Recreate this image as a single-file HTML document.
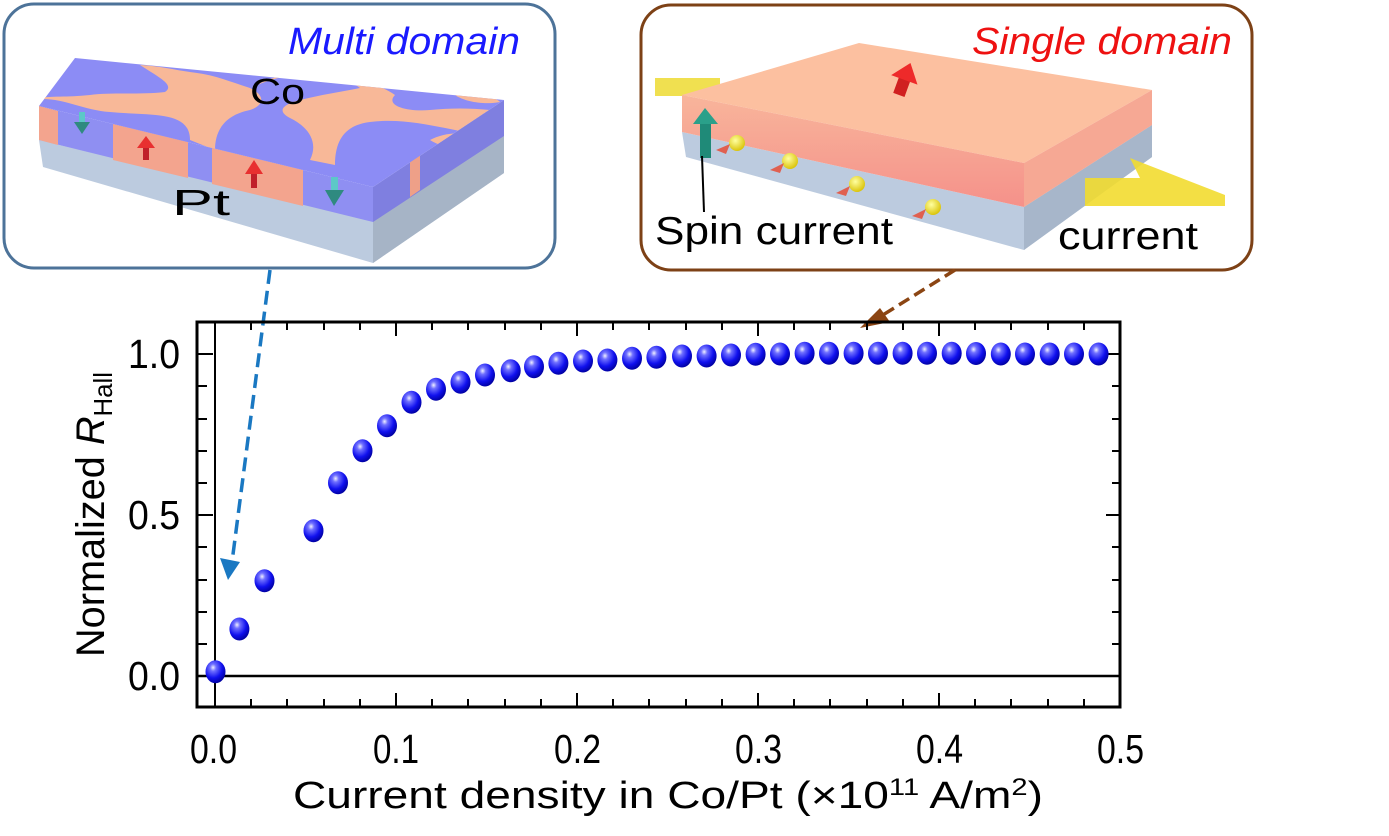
<!DOCTYPE html>
<html><head><meta charset="utf-8"><style>
html,body{margin:0;padding:0;background:#fff;}
svg{display:block;}
text{font-family:"Liberation Sans",sans-serif;}
</style></head><body>
<svg width="1389" height="836" viewBox="0 0 1389 836" xmlns="http://www.w3.org/2000/svg">
<defs>
<radialGradient id="ball" cx="0.38" cy="0.32" r="0.7">
<stop offset="0" stop-color="#f0f0ff"/><stop offset="0.22" stop-color="#7070ff"/><stop offset="0.65" stop-color="#1010ee"/><stop offset="1" stop-color="#0000a0"/></radialGradient>
<radialGradient id="yb" cx="0.4" cy="0.35" r="0.7"><stop offset="0" stop-color="#ffffa0"/><stop offset="1" stop-color="#d8c000"/></radialGradient>
<linearGradient id="coF" x1="0" y1="0" x2="0" y2="1"><stop offset="0" stop-color="#f8b59b"/><stop offset="1" stop-color="#f5918a"/></linearGradient>
<clipPath id="topL"><polygon points="39,106 75,58 504,100 373,187"/></clipPath>
</defs>

<!-- Left panel -->
<rect x="4" y="4" width="551" height="264" rx="30" fill="#fff" stroke="#4d7399" stroke-width="3"/>
<polygon points="39,140 373,220 504,135 504,173 373,263 43,167" fill="#bccbdf"/>
<polygon points="373,220 504,135 504,173 373,263" fill="#a6b4c6"/>
<polygon points="39,106 373,187 373,222 39,140" fill="#8f8ff2"/>
<polygon points="39,106 58,111 58,145 39,140" fill="#f3a48e"/>
<polygon points="113,124 188,142 188,178 113,160" fill="#f3a48e"/>
<polygon points="212,148 303,170 303,206 212,184" fill="#f3a48e"/>
<polygon points="373,187 504,100 504,136 373,222" fill="#7f7fe0"/>
<polygon points="410,162 420,155 420,190 410,197" fill="#eea088"/>
<polygon points="39,106 75,58 504,100 373,187" fill="#8c8cf5"/>
<g clip-path="url(#topL)" fill="#f8b898">
<path d="M30,100 C60,95 80,110 110,112 C150,116 190,110 190,140 L215,150 C215,130 225,115 250,110 C265,105 265,95 250,88 C225,80 215,75 190,72 C175,70 160,66 140,65 C160,78 175,85 165,92 C140,95 110,92 90,95 C60,98 45,95 30,100Z"/>
<path d="M250,88 C265,80 280,75 300,72 C330,72 350,80 360,88 C340,92 320,95 300,100 C285,104 275,110 290,118 C305,125 320,140 310,160 L335,165 C335,140 345,125 370,122 C400,118 430,125 455,130 C470,133 475,140 470,150 L490,110 C470,108 450,108 430,110 C405,112 385,105 395,95 C385,88 370,82 350,78 C320,72 290,70 250,88Z"/>
<path d="M430,140 C445,132 470,130 480,140 C470,150 445,150 430,140Z"/>
<path d="M455,95 C470,92 495,96 500,102 C485,105 465,102 455,95Z"/>
</g>
<g><rect x="79" y="112" width="6" height="12" fill="#5cc8c8"/><polygon points="74,122 90,122 82,134" fill="#2f8a80"/></g>
<g><rect x="143" y="146" width="6" height="14" fill="#c0202a"/><polygon points="137,148 155,148 146,136" fill="#e83030"/></g>
<g><rect x="251" y="172" width="6" height="16" fill="#c0202a"/><polygon points="245,174 263,174 254,160" fill="#e83030"/></g>
<g><rect x="331" y="177" width="7" height="15" fill="#5cc8c8"/><polygon points="325,190 344,190 334,206" fill="#2f8a80"/></g>
<text x="288" y="54" font-size="38" font-style="italic" fill="#1a1aff" textLength="232" lengthAdjust="spacingAndGlyphs">Multi domain</text>
<text x="250" y="104" font-size="36" fill="#000" textLength="55" lengthAdjust="spacingAndGlyphs">Co</text>
<text x="172" y="215" font-size="36" fill="#000" textLength="58" lengthAdjust="spacingAndGlyphs">Pt</text>

<!-- Right panel -->
<rect x="641" y="5" width="611" height="265" rx="30" fill="#fff" stroke="#7d4116" stroke-width="3"/>
<polygon points="655,78 720,78 720,96 655,96" fill="#f0e050"/>
<polygon points="682,132 1024,207 1152,125 1152,157 1024,250 686,157" fill="#bccbdf"/>
<polygon points="1024,207 1152,125 1152,157 1024,250" fill="#a7b6ca"/>
<polygon points="682,95 859,43 1152,90 1024,163" fill="#fcc0a0"/>
<polygon points="682,95 1024,163 1024,207 682,132" fill="url(#coF)"/>
<polygon points="1024,163 1152,90 1152,125 1024,207" fill="#f6a894"/>
<polygon points="1085,178 1140,178 1130,158 1225,195 1225,206 1085,206" fill="#f2dc30" opacity="0.9"/>
<g transform="rotate(20 905 78)"><rect x="899" y="78" width="12" height="18" fill="#d02020"/><polygon points="891,80 919,80 905,62" fill="#ee2a2a"/></g>
<rect x="700" y="122" width="11" height="36" fill="#1f8a78"/><polygon points="693,124 718,124 705,108" fill="#2aa08a"/>
<line x1="702" y1="156" x2="704" y2="212" stroke="#000" stroke-width="2"/>
<g><circle cx="737" cy="143" r="8" fill="url(#yb)"/><polygon points="716,150 730,144 726,154" fill="#e06050"/></g>
<g><circle cx="790" cy="161" r="8" fill="url(#yb)"/><polygon points="770,170 784,163 780,173" fill="#e06050"/></g>
<g><circle cx="857" cy="184" r="8" fill="url(#yb)"/><polygon points="836,193 850,186 846,196" fill="#e06050"/></g>
<g><circle cx="933" cy="207" r="8" fill="url(#yb)"/><polygon points="912,216 926,209 922,219" fill="#e06050"/></g>
<text x="972" y="54" font-size="38" font-style="italic" fill="#ee1111" textLength="260" lengthAdjust="spacingAndGlyphs">Single domain</text>
<text x="655" y="244" font-size="39" fill="#000" textLength="238" lengthAdjust="spacingAndGlyphs">Spin current</text>
<text x="1058" y="249" font-size="39" fill="#000" textLength="140" lengthAdjust="spacingAndGlyphs">current</text>

<!-- connector arrows -->
<line x1="270" y1="270" x2="232" y2="562" stroke="#1a78c2" stroke-width="3.5" stroke-dasharray="14,7"/>
<polygon points="220,558 240,562 228,580" fill="#1a78c2"/>
<line x1="955" y1="270" x2="878" y2="318" stroke="#8b4513" stroke-width="3.5" stroke-dasharray="12,6"/>
<polygon points="860,328 880,308 890,322" fill="#8b4513"/>

<!-- Plot frame -->
<rect x="197" y="322" width="923" height="385" fill="none" stroke="#000" stroke-width="3"/>
<line x1="215" y1="322" x2="215" y2="707" stroke="#000" stroke-width="2"/>
<line x1="197" y1="676" x2="1120" y2="676" stroke="#000" stroke-width="2.5"/>
<g stroke="#000" stroke-width="2">
<path d="M396,707v-14M577,707v-14M758,707v-14M939,707v-14M396,322v14M577,322v14M758,322v14M939,322v14"/>
<path d="M251,707v-8M287,707v-8M324,707v-8M360,707v-8M432,707v-8M468,707v-8M505,707v-8M541,707v-8M613,707v-8M649,707v-8M686,707v-8M722,707v-8M794,707v-8M830,707v-8M867,707v-8M903,707v-8M975,707v-8M1011,707v-8M1048,707v-8M1084,707v-8"/>
<path d="M251,322v8M287,322v8M324,322v8M360,322v8M432,322v8M468,322v8M505,322v8M541,322v8M613,322v8M649,322v8M686,322v8M722,322v8M794,322v8M830,322v8M867,322v8M903,322v8M975,322v8M1011,322v8M1048,322v8M1084,322v8"/>
<path d="M1120,515h-14M1120,354h-14M197,515h16M197,354h16"/>
<path d="M1120,644h-8M1120,612h-8M1120,580h-8M1120,547h-8M1120,483h-8M1120,451h-8M1120,419h-8M1120,386h-8"/>
<path d="M197,644h10M197,612h10M197,580h10M197,547h10M197,483h10M197,451h10M197,419h10M197,386h10"/>
</g>
<g fill="url(#ball)">
<ellipse cx="215.5" cy="671.7" rx="10" ry="11.5"/><ellipse cx="239.4" cy="629" rx="10" ry="11.5"/><ellipse cx="264.5" cy="580.7" rx="10" ry="11.5"/><ellipse cx="313.5" cy="530.7" rx="10" ry="11.5"/><ellipse cx="338" cy="482.7" rx="10" ry="11.5"/><ellipse cx="362.5" cy="450.7" rx="10" ry="11.5"/><ellipse cx="387" cy="425.7" rx="10" ry="11.5"/><ellipse cx="411.5" cy="402.3" rx="10" ry="11.5"/><ellipse cx="436" cy="389.3" rx="10" ry="11.5"/><ellipse cx="460.5" cy="382.3" rx="10" ry="11.5"/><ellipse cx="485" cy="375" rx="10" ry="11.5"/><ellipse cx="510.7" cy="370.7" rx="10" ry="11.5"/><ellipse cx="534" cy="366.7" rx="10" ry="11.5"/><ellipse cx="558.4" cy="363.3" rx="10" ry="11.5"/><ellipse cx="583" cy="361" rx="10" ry="11.5"/><ellipse cx="607.4" cy="360" rx="10" ry="11.5"/><ellipse cx="632" cy="358.3" rx="10" ry="11.5"/><ellipse cx="656.4" cy="357.3" rx="10" ry="11.5"/><ellipse cx="682" cy="356" rx="10" ry="11.5"/><ellipse cx="706.6" cy="356" rx="10" ry="11.5"/><ellipse cx="731" cy="355" rx="10" ry="11.5"/><ellipse cx="755.6" cy="354.3" rx="10" ry="11.5"/><ellipse cx="780" cy="354" rx="10" ry="11.5"/><ellipse cx="804.6" cy="353.3" rx="10" ry="11.5"/><ellipse cx="829" cy="353.3" rx="10" ry="11.5"/><ellipse cx="853.6" cy="353.3" rx="10" ry="11.5"/><ellipse cx="878" cy="353.3" rx="10" ry="11.5"/><ellipse cx="902.6" cy="353.3" rx="10" ry="11.5"/><ellipse cx="927" cy="353.3" rx="10" ry="11.5"/><ellipse cx="951.7" cy="353.3" rx="10" ry="11.5"/><ellipse cx="976" cy="353.5" rx="10" ry="11.5"/><ellipse cx="1000.8" cy="354" rx="10" ry="11.5"/><ellipse cx="1025" cy="354" rx="10" ry="11.5"/><ellipse cx="1049.7" cy="354" rx="10" ry="11.5"/><ellipse cx="1074" cy="354" rx="10" ry="11.5"/><ellipse cx="1098.6" cy="354" rx="10" ry="11.5"/>
</g>
<g font-size="41" fill="#000">
<text x="190" y="763" textLength="47" lengthAdjust="spacingAndGlyphs">0.0</text>
<text x="373" y="763" textLength="46" lengthAdjust="spacingAndGlyphs">0.1</text>
<text x="554" y="763" textLength="47" lengthAdjust="spacingAndGlyphs">0.2</text>
<text x="735" y="763" textLength="47" lengthAdjust="spacingAndGlyphs">0.3</text>
<text x="916" y="763" textLength="47" lengthAdjust="spacingAndGlyphs">0.4</text>
<text x="1097" y="763" textLength="47" lengthAdjust="spacingAndGlyphs">0.5</text>
<text x="128" y="368" textLength="52" lengthAdjust="spacingAndGlyphs">1.0</text>
<text x="128" y="529" textLength="52" lengthAdjust="spacingAndGlyphs">0.5</text>
<text x="128" y="690" textLength="52" lengthAdjust="spacingAndGlyphs">0.0</text>
</g>
<text x="293" y="808" font-size="38" fill="#000" textLength="750" lengthAdjust="spacingAndGlyphs">Current density in Co/Pt (×10<tspan font-size="24" dy="-13">11</tspan><tspan dy="13"> A/m</tspan><tspan font-size="24" dy="-13">2</tspan><tspan dy="13">)</tspan></text>
<text transform="translate(104,657) rotate(-90)" font-size="40" fill="#000" textLength="285" lengthAdjust="spacingAndGlyphs">Normalized <tspan font-style="italic">R</tspan><tspan font-size="26" dy="8">Hall</tspan></text>
</svg>
</body></html>
